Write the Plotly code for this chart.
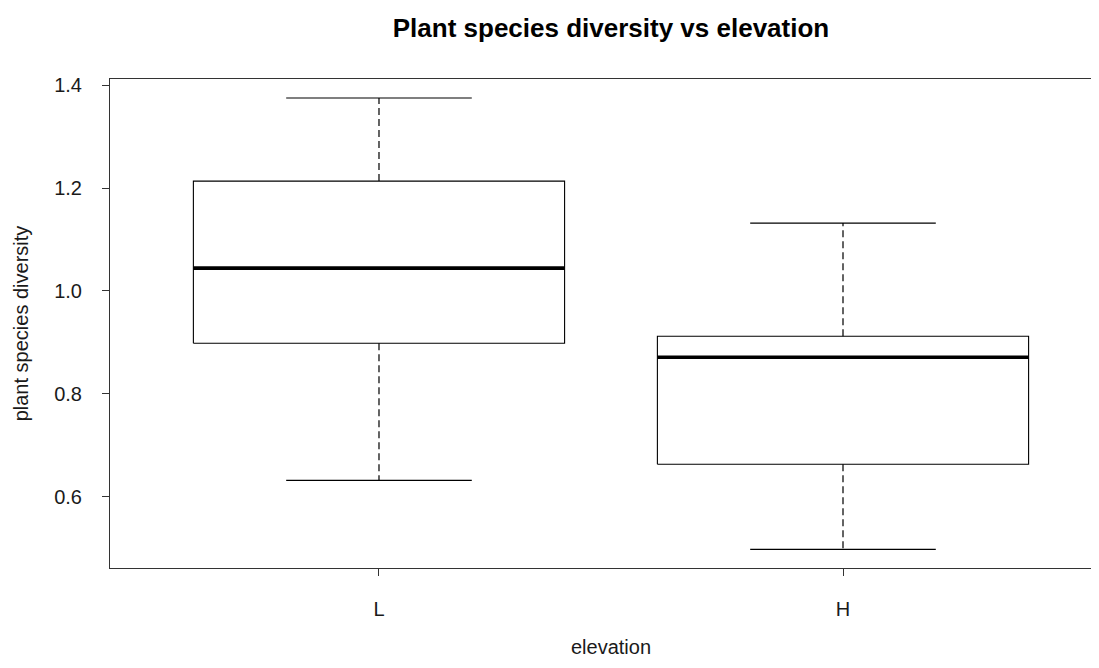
import plotly.graph_objects as go

categories = ["L", "H"]
lower_whisker = [0.6317, 0.4974]
q1 = [0.8984, 0.663]
median = [1.0444, 0.871]
q3 = [1.2137, 0.912]
upper_whisker = [1.3753, 1.132]
y_ticks = [0.6, 0.8, 1.0, 1.2, 1.4]
y_ticklabels = ["0.6", "0.8", "1.0", "1.2", "1.4"]

BOX_W = 0.8
CAP_W = 0.4
FONT = "Liberation Sans, Arial, sans-serif"
W, H = 1083, 652

fig = go.Figure()
positions = list(range(1, len(categories) + 1))

for i, pos in enumerate(positions):
    l, r = pos - BOX_W / 2, pos + BOX_W / 2
    cl, cr = pos - CAP_W / 2, pos + CAP_W / 2
    # whiskers (dashed)
    fig.add_trace(go.Scatter(x=[pos, pos, None, pos, pos],
                             y=[q3[i], upper_whisker[i], None, q1[i], lower_whisker[i]],
                             mode="lines", line=dict(color="#222", width=1.4, dash="7px,4px"),
                             hoverinfo="skip", showlegend=False))
    # caps
    fig.add_trace(go.Scatter(x=[cl, cr, None, cl, cr],
                             y=[upper_whisker[i], upper_whisker[i], None, lower_whisker[i], lower_whisker[i]],
                             mode="lines", line=dict(color="black", width=1.1),
                             hoverinfo="skip", showlegend=False))
    # box
    fig.add_trace(go.Scatter(x=[l, r, r, l, l], y=[q1[i], q1[i], q3[i], q3[i], q1[i]],
                             mode="lines", line=dict(color="black", width=1.1),
                             hoverinfo="skip", showlegend=False))
    # median
    fig.add_trace(go.Scatter(x=[l, r], y=[median[i], median[i]], mode="lines",
                             line=dict(color="black", width=3.6), hoverinfo="skip", showlegend=False))

fig.update_layout(
    width=W, height=H,
    margin=dict(l=102, r=0, t=71, b=92),
    paper_bgcolor="white", plot_bgcolor="white",
    font=dict(family=FONT, size=20, color="#1a1a1a"),
    title=dict(text="<b>Plant species diversity vs elevation</b>", x=603 / W, xref="container",
               xanchor="center", y=1 - 20 / H, yref="container", yanchor="middle",
               font=dict(family=FONT, size=26, color="black")),
    xaxis=dict(range=[0.4203, 1 + (W - 371) / 464], tickvals=positions, ticktext=categories,
               showgrid=False, zeroline=False, showline=True, mirror=True, linecolor="#333",
               linewidth=1.1, ticks="outside", ticklen=7, tickcolor="#333", tickwidth=1.1,
               ticklabelstandoff=16),
    yaxis=dict(range=[0.4612, 1.4123], tickvals=y_ticks, ticktext=y_ticklabels,
               showgrid=False, zeroline=False, showline=True, mirror=False, linecolor="#333",
               linewidth=1.1, ticks="outside", ticklen=7, tickcolor="#333", tickwidth=1.1,
               ticklabelstandoff=16,
               title=dict(text="plant species diversity", standoff=20, font=dict(size=20))),
    annotations=[dict(text="elevation", xref="paper", yref="paper", x=0.5107, y=-(639 - 560) / 489,
                      xanchor="center", yanchor="middle", showarrow=False,
                      font=dict(family=FONT, size=20, color="#1a1a1a"))],
)

fig.write_html("out.html")
